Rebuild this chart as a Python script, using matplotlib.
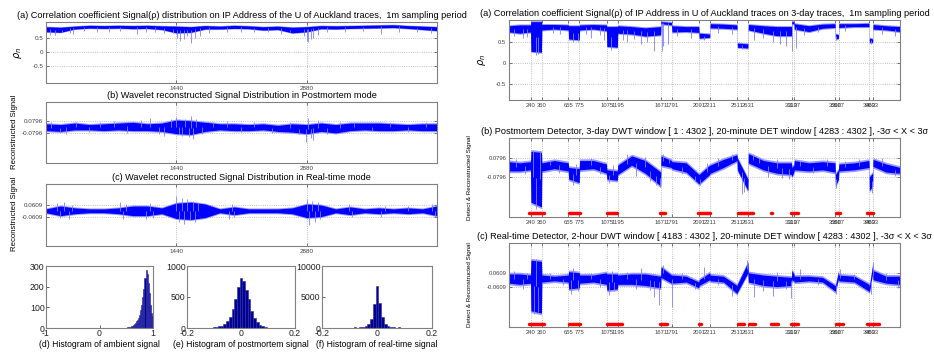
import matplotlib
matplotlib.use('Agg')
import matplotlib.pyplot as plt
import numpy as np

plt.rcParams['font.family'] = ['Liberation Sans', 'DejaVu Sans']

# ---------------- left column data (1 day, 1m sampling) ----------------
lx = list(range(0, 4321, 160))
la_hi = [0.90, 0.88, 0.92, 0.95, 0.94, 0.95, 0.94, 0.95, 0.93, 0.92, 0.90, 0.94, 0.92, 0.95,
         0.93, 0.90, 0.92, 0.88, 0.90, 0.94, 0.93, 0.94, 0.95, 0.96, 0.97, 0.94, 0.92, 0.90]
la_lo = [0.72, 0.70, 0.82, 0.85, 0.84, 0.85, 0.83, 0.84, 0.80, 0.68, 0.70, 0.82, 0.82, 0.84,
         0.83, 0.78, 0.80, 0.68, 0.72, 0.83, 0.82, 0.84, 0.85, 0.86, 0.87, 0.84, 0.80, 0.76]
la_spk_x = [40, 100, 180, 260, 300, 420, 560, 700, 820, 1000, 1100, 1200, 1300, 1400, 1450, 1480, 1520,
            1560, 1600, 1650, 1700, 1800, 2000, 2150, 2300, 2450, 2600, 2700, 2850, 2880, 2900, 2930,
            2950, 3000, 3100, 3300, 3500, 3700, 3900, 4100, 4250]
la_spk_y = [0.62, 0.60, 0.70, 0.68, 0.65, 0.74, 0.72, 0.70, 0.74, 0.65, 0.72, 0.70, 0.68, 0.66, 0.50, 0.40, 0.45,
            0.55, 0.30, 0.50, 0.55, 0.66, 0.70, 0.72, 0.70, 0.72, 0.65, 0.70, 0.55, 0.40, 0.35, 0.45,
            0.50, 0.60, 0.70, 0.70, 0.74, 0.65, 0.72, 0.70, 0.66]

lb_hi = [0.04, 0.03, 0.05, 0.03, 0.04, 0.05, 0.06, 0.04, 0.05, 0.09, 0.08, 0.06, 0.04, 0.04,
         0.03, 0.04, 0.02, 0.04, 0.03, 0.05, 0.03, 0.05, 0.05, 0.05, 0.04, 0.03, 0.04, 0.04]
lb_lo = [-0.05, -0.06, -0.04, -0.04, -0.05, -0.04, -0.05, -0.05, -0.06, -0.09, -0.10, -0.06, -0.04, -0.05,
         -0.05, -0.04, -0.06, -0.07, -0.09, -0.06, -0.08, -0.05, -0.04, -0.05, -0.05, -0.04, -0.05, -0.05]
lb_spk_x = [60, 150, 220, 330, 480, 600, 750, 900, 1050, 1150, 1250, 1300, 1380, 1440, 1470, 1500, 1540,
            1580, 1600, 1620, 1660, 1720, 1850, 2000, 2150, 2300, 2500, 2700, 2800, 2870, 2900, 2930,
            2950, 3000, 3100, 3250, 3400, 3600, 3800, 4000, 4200]
lb_spk_y = [0.07, -0.08, -0.10, 0.06, -0.07, 0.07, 0.08, -0.08, 0.09, 0.12, -0.09, -0.12, 0.10, 0.13, -0.10, -0.12, 0.11,
            -0.14, 0.14, -0.16, 0.10, -0.09, 0.07, 0.08, -0.07, 0.06, -0.08, 0.07, -0.10, -0.20, 0.12, -0.15,
            -0.17, 0.09, -0.10, 0.07, 0.07, -0.06, 0.07, -0.07, 0.06]

lc_hi = [0.02, 0.05, 0.03, 0.02, 0.02, 0.03, 0.05, 0.05, 0.03, 0.08, 0.09, 0.07, 0.02, 0.04,
         0.02, 0.02, 0.02, 0.03, 0.07, 0.06, 0.02, 0.04, 0.02, 0.03, 0.02, 0.03, 0.02, 0.05]
lc_lo = [-0.02, -0.05, -0.03, -0.02, -0.02, -0.03, -0.05, -0.05, -0.03, -0.08, -0.09, -0.07, -0.02, -0.04,
         -0.02, -0.02, -0.02, -0.03, -0.07, -0.06, -0.02, -0.04, -0.02, -0.03, -0.02, -0.03, -0.02, -0.05]
lc_spk_x = [120, 160, 200, 250, 290, 820, 850, 880, 1100, 1150, 1180, 1440, 1470, 1500, 1530, 1560, 1590,
            1620, 1650, 1680, 2020, 2050, 2080, 2880, 2910, 2940, 2970, 3000, 3030, 3350, 3380, 3700,
            3740, 4000, 4270, 4300]
lc_spk_y = [0.08, -0.07, 0.09, -0.08, 0.06, 0.09, -0.08, 0.07, -0.08, 0.08, -0.07, 0.15, -0.12, 0.13, -0.14, 0.12, -0.10,
            0.10, -0.12, 0.08, -0.08, 0.07, -0.06, 0.12, -0.15, 0.10, -0.12, 0.09, -0.08, 0.07, -0.06, -0.06,
            0.05, 0.05, 0.07, -0.06]

# histograms (bin centres, counts)
hd_c = [0.51, 0.53, 0.55, 0.57, 0.59, 0.61, 0.63, 0.65, 0.67, 0.69, 0.71, 0.73, 0.75,
        0.77, 0.79, 0.81, 0.83, 0.85, 0.87, 0.89, 0.91, 0.93, 0.95, 0.97, 0.99]
hd_n = [2, 3, 4, 6, 8, 10, 14, 18, 25, 32, 40, 50, 65, 85, 110, 150, 190, 240, 280, 260, 220, 170, 110, 75, 60]
he_c = [-0.10, -0.09, -0.08, -0.07, -0.06, -0.05, -0.04, -0.03, -0.02, -0.01, 0.00,
        0.01, 0.02, 0.03, 0.04, 0.05, 0.06, 0.07, 0.08, 0.09, 0.10]
he_n = [10, 15, 25, 40, 70, 110, 180, 300, 470, 660, 800, 760, 620, 460, 280, 160, 90, 50, 30, 15, 8]
hf_c = [-0.10, -0.08, -0.06, -0.05, -0.04, -0.03, -0.02, -0.01, 0.00, 0.01, 0.02, 0.03, 0.04, 0.05, 0.06, 0.08, 0.10]
hf_n = [60, 90, 120, 160, 250, 600, 1500, 3800, 6800, 4000, 1700, 700, 300, 170, 120, 90, 60]

# ---------------- right column data (3 days) ----------------
rx = [1, 120, 238, 242, 358, 362, 500, 653, 657, 774, 778, 930, 1073, 1077, 1193, 1197, 1350, 1500,
      1669, 1673, 1789, 1793, 1950, 2089, 2093, 2209, 2213, 2360, 2509, 2513, 2629, 2633, 2800, 2950,
      3108, 3112, 3135, 3139, 3300, 3450, 3588, 3592, 3625, 3629, 3800, 3961, 3965, 4001, 4005, 4150, 4302]
ra_hi = [0.90, 0.92, 0.92, 1.00, 1.00, 0.93, 0.93, 0.92, 0.90, 0.90, 0.92, 0.93, 0.92, 0.88, 0.88, 0.90, 0.88, 0.85,
         0.88, 1.00, 0.98, 0.90, 0.88, 0.88, 0.72, 0.70, 0.95, 0.94, 0.92, 0.48, 0.46, 0.93, 0.90, 0.88,
         0.88, 1.00, 1.00, 0.95, 0.90, 0.94, 0.95, 0.70, 0.68, 0.95, 0.95, 0.96, 0.60, 0.58, 0.93, 0.90, 0.88]
ra_lo = [0.75, 0.72, 0.75, 0.28, 0.26, 0.80, 0.82, 0.80, 0.58, 0.56, 0.80, 0.82, 0.78, 0.40, 0.38, 0.72, 0.70, 0.65,
         0.68, 0.95, 0.92, 0.75, 0.76, 0.74, 0.60, 0.62, 0.85, 0.84, 0.82, 0.38, 0.36, 0.80, 0.72, 0.66,
         0.66, 0.95, 0.95, 0.82, 0.76, 0.84, 0.86, 0.58, 0.60, 0.86, 0.88, 0.88, 0.50, 0.50, 0.82, 0.80, 0.76]
ra_spk_x = [60, 150, 200, 300, 320, 480, 560, 700, 760, 850, 900, 1000, 1050, 1120, 1250, 1300, 1380, 1450,
            1520, 1600, 1680, 1700, 1750, 1850, 2000, 2150, 2300, 2450, 2560, 2700, 2800, 2900, 2980,
            3050, 3110, 3160, 3250, 3400, 3600, 3700, 3980, 4100, 4250]
ra_spk_y = [0.65, 0.60, 0.62, 0.20, 0.22, 0.72, 0.70, 0.50, 0.52, 0.70, 0.60, 0.68, 0.55, 0.32, 0.55, 0.50, 0.58, 0.45,
            0.50, 0.30, 0.28, 0.40, 0.45, 0.66, 0.60, 0.55, 0.72, 0.70, 0.34, 0.55, 0.60, 0.50, 0.45,
            0.40, 0.30, 0.35, 0.68, 0.75, 0.55, 0.78, 0.45, 0.70, 0.66]

rb_hi = [0.05, 0.04, 0.05, 0.14, 0.13, 0.04, 0.06, 0.04, 0.00, -0.01, 0.06, 0.06, 0.03, -0.02, -0.03, 0.02, 0.10, 0.06,
         -0.04, 0.10, 0.06, 0.05, 0.04, -0.06, -0.06, 0.02, 0.02, 0.07, 0.11, 0.08, -0.10, 0.12, 0.06, 0.04,
         0.04, 0.00, 0.02, 0.06, 0.04, 0.05, 0.04, -0.06, -0.02, 0.03, 0.04, 0.06, -0.08, -0.05, 0.07, 0.03, 0.00]
rb_lo = [-0.03, -0.03, -0.02, -0.30, -0.34, -0.03, -0.01, -0.03, -0.10, -0.13, -0.02, -0.01, -0.05, -0.10, -0.11, -0.06, 0.02, -0.05,
         -0.16, 0.02, 0.00, -0.01, -0.04, -0.14, -0.14, -0.06, -0.05, 0.00, 0.06, -0.02, -0.20, 0.04, -0.02, -0.05,
         -0.06, -0.08, -0.04, -0.02, -0.03, -0.02, -0.04, -0.16, -0.10, -0.03, -0.02, 0.00, -0.20, -0.16, 0.01, -0.04, -0.05]
rb_spk_x = [80, 180, 260, 300, 340, 450, 550, 700, 740, 900, 1000, 1100, 1150, 1300, 1400, 1500, 1550, 1620,
            1660, 1700, 1760, 1900, 2050, 2100, 2180, 2300, 2450, 2560, 2590, 2680, 2750, 2850, 2950, 3000,
            3080, 3200, 3350, 3500, 3600, 3700, 3850, 3990, 4100, 4250]
rb_spk_y = [0.07, -0.06, 0.15, -0.36, 0.14, 0.06, -0.05, -0.15, 0.03, 0.08, -0.06, -0.13, 0.02, 0.12, -0.07, 0.09, -0.12, -0.15,
            -0.17, 0.12, 0.08, -0.06, -0.12, -0.15, 0.04, 0.08, 0.12, -0.23, -0.21, 0.12, 0.08, -0.08, 0.07, -0.09,
            -0.10, 0.06, -0.05, 0.07, -0.18, 0.06, 0.07, -0.22, 0.08, -0.07]

rc_hi = [0.05, 0.05, 0.04, 0.17, 0.16, 0.04, 0.03, 0.04, 0.07, 0.06, 0.04, 0.04, 0.06, 0.05, 0.05, 0.04, 0.05, 0.05,
         0.03, 0.11, 0.04, 0.04, 0.03, -0.02, 0.00, 0.06, 0.04, 0.03, -0.05, -0.04, 0.15, 0.06, 0.04, 0.03,
         0.02, 0.08, 0.05, 0.03, 0.03, 0.02, -0.05, -0.05, 0.07, 0.04, 0.03, -0.04, -0.06, 0.13, 0.08, 0.03, 0.03]
rc_lo = [-0.03, -0.04, -0.03, -0.27, -0.29, -0.02, -0.01, -0.02, -0.08, -0.07, -0.03, -0.02, -0.04, -0.09, -0.08, -0.04, -0.04, -0.05,
         -0.07, 0.02, -0.03, -0.03, -0.02, -0.07, -0.05, 0.00, -0.01, -0.02, -0.12, -0.11, 0.06, -0.02, -0.05, -0.06,
         -0.05, 0.00, -0.01, -0.02, -0.01, -0.02, -0.10, -0.10, 0.01, -0.01, -0.02, -0.10, -0.11, 0.06, 0.00, -0.03, -0.04]
rc_spk_x = [60, 150, 200, 280, 300, 320, 450, 600, 680, 700, 760, 900, 1000, 1100, 1130, 1160, 1300, 1400,
            1450, 1550, 1600, 1650, 1690, 1791, 1900, 2050, 2150, 2300, 2450, 2620, 2700, 2800, 2900, 2950,
            3050, 3100, 3200, 3400, 3600, 3640, 3800, 3980, 4010, 4150, 4280]
rc_spk_y = [0.08, -0.08, 0.06, -0.30, 0.18, -0.28, 0.06, -0.05, -0.12, 0.10, -0.10, 0.06, -0.06, -0.13, 0.08, -0.10, 0.07, -0.08,
            0.10, -0.09, -0.15, -0.22, 0.13, -0.24, 0.06, -0.08, 0.11, -0.05, -0.14, 0.17, -0.15, -0.10, -0.14, 0.07,
            -0.08, -0.16, 0.09, -0.05, -0.12, 0.09, 0.05, -0.12, 0.15, 0.06, -0.07]

# detected anomaly intervals (minutes)
rb_det = [(220, 385), (660, 780), (1075, 1185), (1229, 1235), (1449, 1455), (1661, 1716), (1790, 1796),
          (2080, 2211), (2520, 2685), (2883, 2889), (3102, 3180), (3597, 3641), (3942, 4008)]
rc_det = [(220, 385), (517, 523), (660, 780), (1075, 1240), (1449, 1455), (1661, 1738), (1790, 1796),
          (2091, 2110), (2515, 2587), (2636, 2706), (2878, 2958), (3102, 3180), (3597, 3641), (3667, 3673),
          (3942, 4070)]

rticks = [240, 360, 655, 775, 1075, 1195, 1671, 1791, 2091, 2211, 2511, 2631, 3110, 3137, 3590, 3627, 3963, 4003]

W, H = 934, 358
fig = plt.figure(figsize=(W / 100, H / 100), dpi=100)


def add_ax(x0, y0, x1, y1):
    return fig.add_axes([x0 / W, 1 - y1 / H, (x1 - x0) / W, (y1 - y0) / H])


def style(ax, fs=4.5):
    for s in ax.spines.values():
        s.set_color('#808080')
        s.set_linewidth(0.8)
    ax.tick_params(labelsize=fs, colors='#404040', length=2, width=0.5,
                   direction='in', top=True, right=True, pad=2)
    ax.grid(True, linestyle=':', color='#b0b0b0', linewidth=0.6)
    ax.set_axisbelow(True)


def signal(ax, x, lo, hi, sx, sy, d):
    lo = np.array(lo)
    hi = np.array(hi)
    base = np.interp(sx, x, (lo + hi) / 2)
    ax.vlines(sx, base, sy, color='#8080ff', lw=0.6)
    ax.fill_between(x, lo - d, hi + d, color='#9a9aff', lw=0)
    ax.fill_between(x, lo, hi, color='#0000ff', lw=0)


TFS = 6.6

# (a) left
ax = add_ax(46, 22, 437, 83)
style(ax)
signal(ax, lx, la_lo, la_hi, la_spk_x, la_spk_y, 0.02)
ax.set_xlim(0, 4320)
ax.set_ylim(-1.12, 1.07)
ax.set_xticks([1440, 2880])
ax.set_yticks([-0.5, 0, 0.5])
ax.set_yticklabels(['-0.5', '0', '0.5'])
ax.set_ylabel(r'$\rho_n$', fontsize=7, labelpad=6)
ax.set_title('(a) Correlation coefficient Signal(ρ) distribution on IP Address of the U of Auckland traces,  1m sampling period',
             fontsize=TFS, pad=3)

# (b) left
ax = add_ax(46, 102, 437, 163)
style(ax)
signal(ax, lx, lb_lo, lb_hi, lb_spk_x, lb_spk_y, 0.015)
ax.set_xlim(0, 4320)
ax.set_ylim(-0.48, 0.33)
ax.set_xticks([1440, 2880])
ax.set_yticks([-0.0796, 0.0796])
ax.set_yticklabels(['-0.0796', '0.0796'])
ax.set_title('(b) Wavelet reconstructed Signal Distribution in Postmortem mode', fontsize=TFS, pad=3)
fig.text(14 / W, 1 - 132 / H, 'Reconstructed Signal', rotation=90, fontsize=5.6, ha='center', va='center')

# (c) left
ax = add_ax(46, 184, 437, 246)
style(ax)
signal(ax, lx, lc_lo, lc_hi, lc_spk_x, lc_spk_y, 0.01)
ax.set_xlim(0, 4320)
ax.set_ylim(-0.366, 0.279)
ax.set_xticks([1440, 2880])
ax.set_yticks([-0.0609, 0.0609])
ax.set_yticklabels(['-0.0609', '0.0609'])
ax.set_title('(c) Wavelet reconstructed Signal Distribution in Real-time mode', fontsize=TFS, pad=3)
fig.text(14 / W, 1 - 214 / H, 'Reconstructed Signal', rotation=90, fontsize=5.6, ha='center', va='center')

# histograms
hists = [
    ((46, 266, 153, 328), hd_c, hd_n, 0.02, (-1, 1), [-1, 0, 1], (0, 300), [0, 100, 200, 300],
     '(d) Histogram of ambient signal'),
    ((187, 266, 295, 328), he_c, he_n, 0.01, (-0.2, 0.2), [-0.2, 0, 0.2], (0, 1000), [0, 500, 1000],
     '(e) Histogram of postmortem signal'),
    ((322, 266, 432, 328), hf_c, hf_n, 0.01, (-0.2, 0.2), [-0.2, 0, 0.2], (0, 10000), [0, 5000, 10000],
     '(f) Histogram of real-time signal'),
]
for box, c, n, w, xl, xt, yl, yt, lab in hists:
    ax = add_ax(*box)
    for s in ax.spines.values():
        s.set_color('#808080')
        s.set_linewidth(0.8)
    ax.bar(c, n, width=w, color='#00008f', edgecolor='#2a2aa8', linewidth=0.4)
    ax.set_xlim(*xl)
    ax.set_ylim(*yl)
    ax.set_xticks(xt)
    ax.set_xticklabels([f'{v:g}' for v in xt])
    ax.set_yticks(yt)
    ax.tick_params(labelsize=6.3, colors='#202020', length=2, width=0.5, direction='in', pad=1)
    ax.set_xlabel(lab, fontsize=6.2, labelpad=1)

# right column
rlabels = [str(t) for t in rticks]

ax = add_ax(509, 20, 900, 100)
style(ax, 4.2)
signal(ax, rx, ra_lo, ra_hi, ra_spk_x, ra_spk_y, 0.025)
ax.set_xlim(1, 4302)
ax.set_ylim(-0.9, 1.04)
ax.set_xticks(rticks)
ax.set_xticklabels(rlabels)
ax.set_yticks([-0.5, 0, 0.5])
ax.set_yticklabels(['-0.5', '0', '0.5'])
ax.set_ylabel(r'$\rho_n$', fontsize=7, labelpad=6)
ax.set_title('(a) Correlation coefficient Signal(ρ) of IP Address in U of Auckland traces on 3-day traces,  1m sampling period',
             fontsize=TFS, pad=3)

ax = add_ax(509, 138, 900, 217)
style(ax, 4.2)
signal(ax, rx, rb_lo, rb_hi, rb_spk_x, rb_spk_y, 0.015)
for a, b in rb_det:
    ax.plot([a, b], [-0.39, -0.39], color='red', lw=2.5, solid_capstyle='round')
ax.set_xlim(1, 4302)
ax.set_ylim(-0.428, 0.255)
ax.set_xticks(rticks)
ax.set_xticklabels(rlabels)
ax.set_yticks([-0.0796, 0.0796])
ax.set_yticklabels(['-0.0796', '0.0796'])
ax.set_ylabel('Detect & Reconstructed Signal', fontsize=4.5, labelpad=10)
ax.set_title('(b) Postmortem Detector, 3-day DWT window [ 1 : 4302 ], 20-minute DET window [ 4283 : 4302 ], -3σ < X < 3σ',
             fontsize=TFS, pad=3)

ax = add_ax(509, 243, 900, 327)
style(ax, 4.2)
signal(ax, rx, rc_lo, rc_hi, rc_spk_x, rc_spk_y, 0.015)
for a, b in rc_det:
    ax.plot([a, b], [-0.388, -0.388], color='red', lw=2.5, solid_capstyle='round')
ax.set_xlim(1, 4302)
ax.set_ylim(-0.411, 0.319)
ax.set_xticks(rticks)
ax.set_xticklabels(rlabels)
ax.set_yticks([-0.0609, 0.0609])
ax.set_yticklabels(['-0.0609', '0.0609'])
ax.set_ylabel('Detect & Reconstructed Signal', fontsize=4.5, labelpad=10)
ax.set_title('(c) Real-time Detector, 2-hour DWT window [ 4183 : 4302 ], 20-minute DET window [ 4283 : 4302 ], -3σ < X < 3σ',
             fontsize=TFS, pad=3)

fig.savefig('out.png', dpi=100)
